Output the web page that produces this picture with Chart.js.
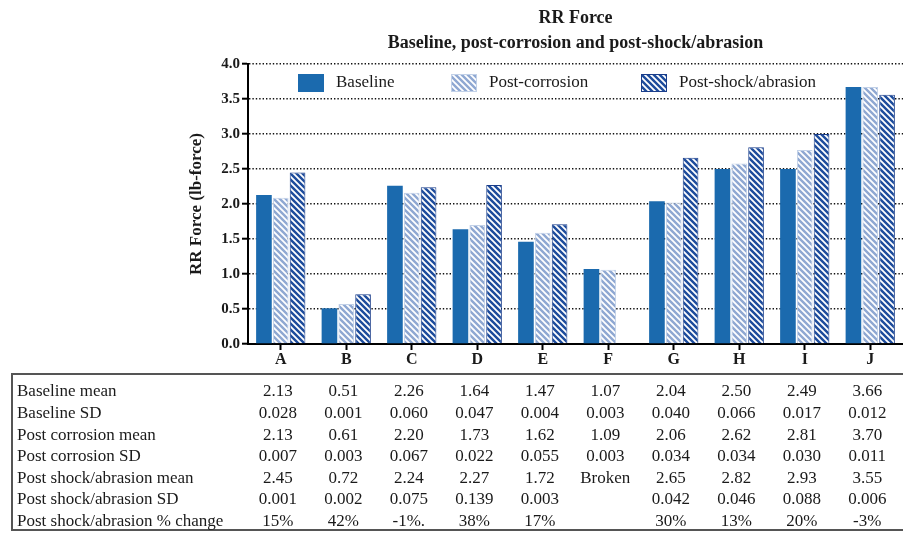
<!DOCTYPE html>
<html>
<head>
<meta charset="utf-8">
<script src="https://cdn.jsdelivr.net/npm/chart.js@4.4.1/dist/chart.umd.min.js"></script>
<style>
	html, body { margin: 0; padding: 0; background: #fff; overflow: hidden; }
	#wrap { width: 903px; height: 535px; }
</style>
</head>
<body>
<div id="wrap"><canvas id="rrChart" width="903" height="535"></canvas></div>
<script>
// bar heights
let categories = ['A', 'B', 'C', 'D', 'E', 'F', 'G', 'H', 'I', 'J']
let baseline = [2.13, 0.51, 2.26, 1.64, 1.46, 1.07, 2.04, 2.50, 2.50, 3.67]
let postCorrosion = [2.09, 0.57, 2.16, 1.70, 1.59, 1.06, 2.02, 2.58, 2.77, 3.67]
let postShock = [2.45, 0.71, 2.24, 2.27, 1.71, null, 2.66, 2.81, 3.00, 3.56]
let seriesNames = ['Baseline', 'Post-corrosion', 'Post-shock/abrasion']
let yMin = 0
let yMax = 4
let yStep = 0.5

// table under the chart
let rowLabels = ['Baseline mean', 'Baseline SD', 'Post corrosion mean', 'Post corrosion SD',
	'Post shock/abrasion mean', 'Post shock/abrasion SD', 'Post shock/abrasion % change']
let baselineMean = ['2.13', '0.51', '2.26', '1.64', '1.47', '1.07', '2.04', '2.50', '2.49', '3.66']
let baselineSd = ['0.028', '0.001', '0.060', '0.047', '0.004', '0.003', '0.040', '0.066', '0.017', '0.012']
let corrosionMean = ['2.13', '0.61', '2.20', '1.73', '1.62', '1.09', '2.06', '2.62', '2.81', '3.70']
let corrosionSd = ['0.007', '0.003', '0.067', '0.022', '0.055', '0.003', '0.034', '0.034', '0.030', '0.011']
let shockMean = ['2.45', '0.72', '2.24', '2.27', '1.72', 'Broken', '2.65', '2.82', '2.93', '3.55']
let shockSd = ['0.001', '0.002', '0.075', '0.139', '0.003', '', '0.042', '0.046', '0.088', '0.006']
let shockChange = ['15%', '42%', '-1%.', '38%', '17%', '', '30%', '13%', '20%', '-3%']
let tableRows = [baselineMean, baselineSd, corrosionMean, corrosionSd, shockMean, shockSd, shockChange]

let serif = "'Liberation Serif', 'Times New Roman', serif"
let ink = '#1a1a1a'
let canvas = document.getElementById('rrChart')
let mainCtx = canvas.getContext('2d')

let stripes = (bg, line, lw) => {
	let s = 6
	let c = document.createElement('canvas')
	c.width = s
	c.height = s
	let g = c.getContext('2d')
	g.fillStyle = bg
	g.fillRect(0, 0, s, s)
	g.strokeStyle = line
	g.lineWidth = lw
	g.beginPath()
	g.moveTo(-1, -1); g.lineTo(s + 1, s + 1)
	g.moveTo(-1, s - 1); g.lineTo(1, s + 1)
	g.moveTo(s - 1, -1); g.lineTo(s + 1, 1)
	g.stroke()
	return mainCtx.createPattern(c, 'repeat')
}

let titlePlugin = {
	id: 'rrTitle',
	afterDraw: chart => {
		let ctx = chart.ctx
		let a = chart.chartArea
		let cx = (a.left + a.right) / 2
		ctx.save()
		ctx.fillStyle = ink
		ctx.font = `bold 18px ${serif}`
		ctx.textAlign = 'center'
		ctx.textBaseline = 'middle'
		ctx.fillText('RR Force', cx, 18)
		ctx.fillText('Baseline, post-corrosion and post-shock/abrasion', cx, 43)
		ctx.restore()
	}
}

let legendPlugin = {
	id: 'rrLegend',
	afterDatasetsDraw: chart => {
		let ctx = chart.ctx
		let a = chart.chartArea
		let offsets = [50, 203, 393]
		ctx.save()
		ctx.font = `17px ${serif}`
		ctx.textBaseline = 'middle'
		ctx.textAlign = 'left'
		chart.data.datasets.forEach((ds, i) => {
			let bx = a.left + offsets[i]
			let by = a.top + 10
			ctx.fillStyle = ds.backgroundColor
			ctx.fillRect(bx, by, 26, 18)
			if (ds.borderWidth) {
				ctx.strokeStyle = ds.borderColor
				ctx.lineWidth = 1
				ctx.strokeRect(bx + 0.5, by + 0.5, 25, 17)
			}
			ctx.fillStyle = ink
			ctx.fillText(ds.label, bx + 38, by + 9)
		})
		ctx.restore()
	}
}

let tablePlugin = {
	id: 'rrTable',
	afterDraw: chart => {
		let ctx = chart.ctx
		let x = chart.scales.x
		ctx.save()
		ctx.strokeStyle = '#555'
		ctx.lineWidth = 2
		ctx.beginPath()
		ctx.moveTo(12, 374); ctx.lineTo(903, 374)
		ctx.moveTo(12, 373); ctx.lineTo(12, 531)
		ctx.moveTo(12, 530); ctx.lineTo(903, 530)
		ctx.stroke()
		ctx.font = `17px ${serif}`
		ctx.fillStyle = ink
		ctx.textBaseline = 'middle'
		tableRows.forEach((row, r) => {
			let y = 392 + r * 21.6
			ctx.textAlign = 'left'
			ctx.fillText(rowLabels[r], 17, y)
			ctx.textAlign = 'center'
			row.forEach((v, i) => ctx.fillText(v, x.getPixelForValue(i) - 3, y))
		})
		ctx.restore()
	}
}

let chart = new Chart(canvas, {
	type: 'bar',
	data: {
		labels: categories,
		datasets: [
			{
				label: seriesNames[0],
				data: baseline,
				backgroundColor: '#1b6aae',
				borderWidth: 0
			},
			{
				label: seriesNames[1],
				data: postCorrosion,
				backgroundColor: stripes('#8fa8d2', '#ffffff', 1.8),
				borderColor: '#c2d1e8',
				borderWidth: 1
			},
			{
				label: seriesNames[2],
				data: postShock,
				backgroundColor: stripes('#1d4c9c', '#ffffff', 1.8),
				borderColor: '#1a3d8a',
				borderWidth: 1
			}
		]
	},
	options: {
		responsive: false,
		animation: false,
		events: [],
		categoryPercentage: 0.77,
		barPercentage: 0.93,
		layout: { padding: { top: 64, left: 180, right: 0, bottom: 167 } },
		plugins: {
			legend: { display: false },
			title: { display: false },
			tooltip: { enabled: false }
		},
		scales: {
			x: {
				afterFit: s => { s.height = 24 },
				grid: {
					display: true,
					drawOnChartArea: false,
					offset: false,
					drawTicks: true,
					tickLength: 6,
					tickColor: '#000',
					tickWidth: 2
				},
				border: { display: true, color: '#000', width: 2 },
				ticks: {
					color: ink,
					padding: 0,
					font: { family: serif, size: 16, weight: 'bold' }
				}
			},
			y: {
				min: yMin,
				max: yMax,
				afterFit: s => { s.width = 68 },
				grid: {
					color: c => c.tick && c.tick.value === 0 ? 'rgba(0,0,0,0)' : '#111',
					lineWidth: 1.4,
					tickColor: '#000',
					tickWidth: 2,
					tickLength: 6,
					tickBorderDash: []
				},
				border: { display: true, color: '#000', width: 2, dash: [1.4, 2] },
				ticks: {
					stepSize: yStep,
					padding: 2,
					color: ink,
					font: { family: serif, size: 15, weight: 'bold' },
					callback: v => v.toFixed(1)
				},
				title: {
					display: true,
					text: 'RR Force (lb-force)',
					color: ink,
					padding: { top: 6, bottom: 0 },
					font: { family: serif, size: 17, weight: 'bold' }
				}
			}
		}
	},
	plugins: [titlePlugin, legendPlugin, tablePlugin]
})
</script>
</body>
</html>
